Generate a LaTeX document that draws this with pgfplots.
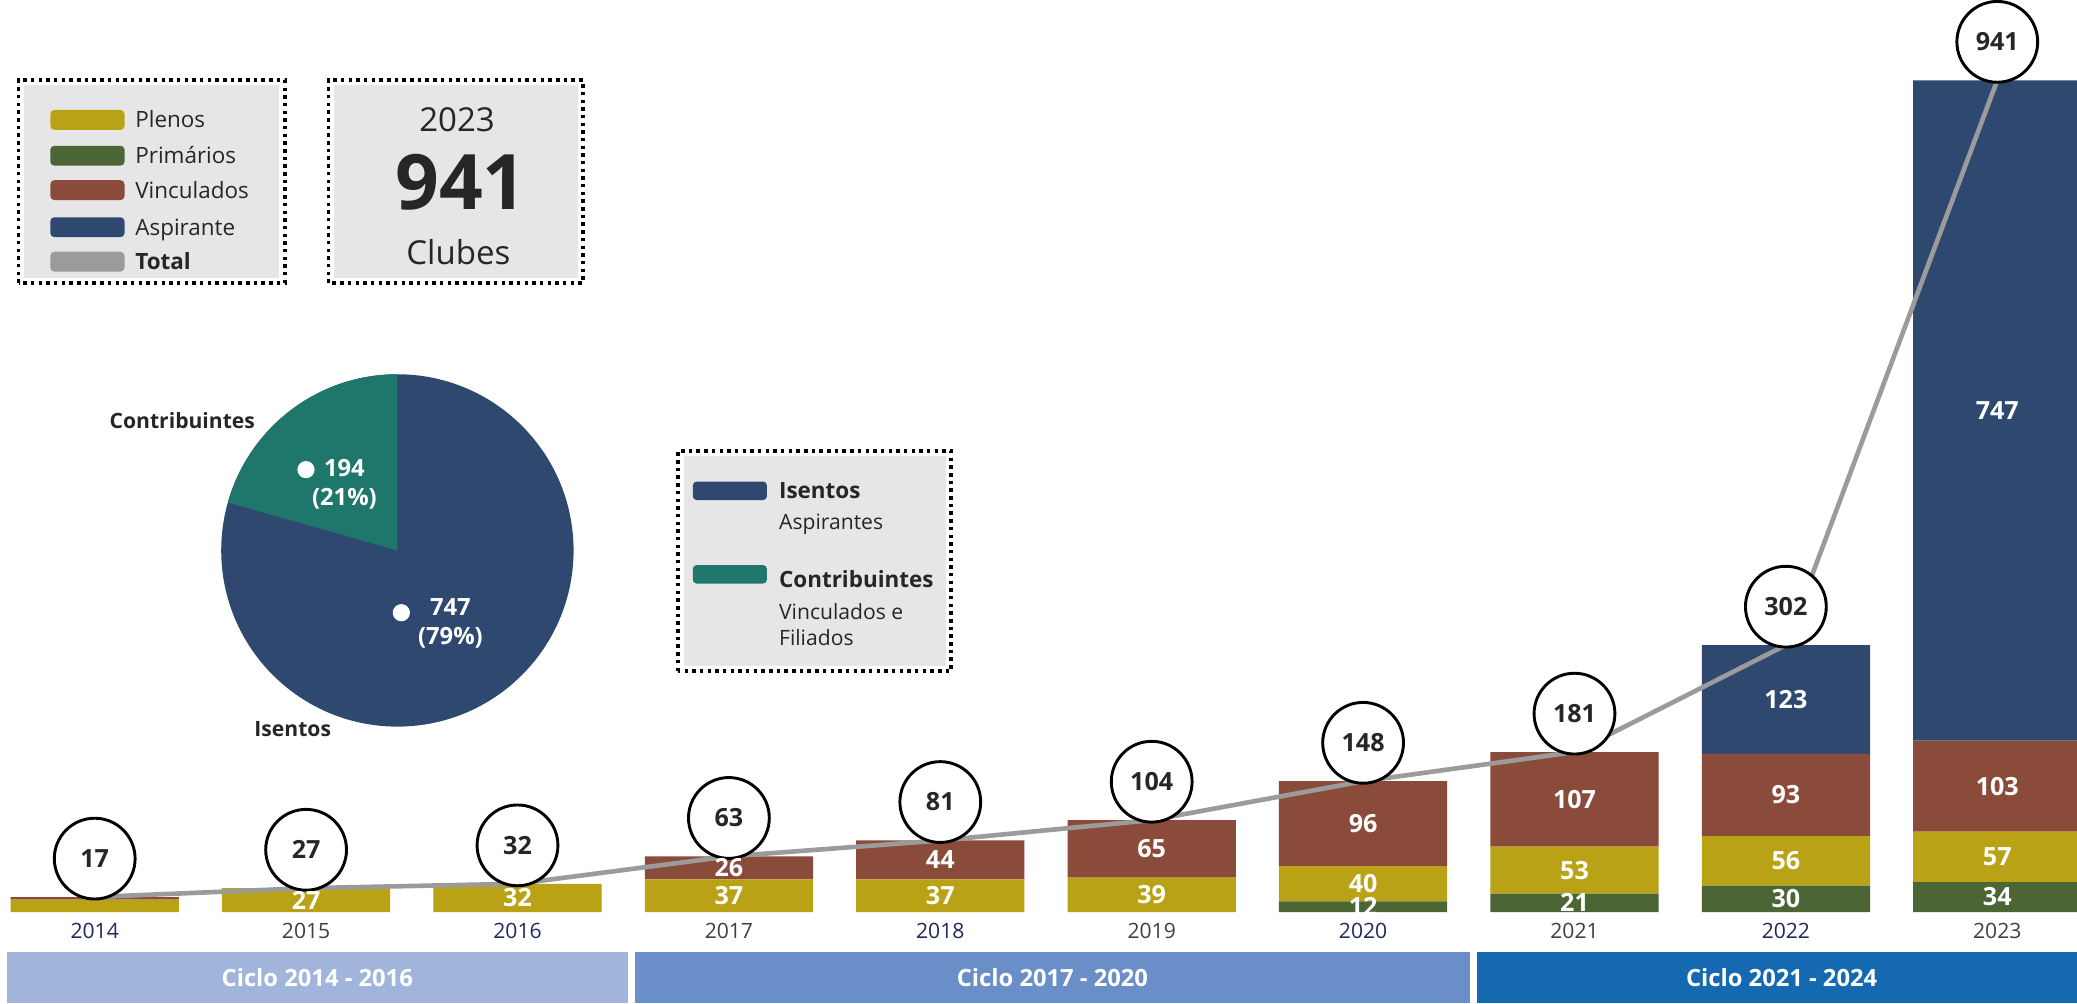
\documentclass[border=0pt]{standalone}
\usepackage{fontspec}
\setmainfont{Open Sans}
\usepackage{pgfplots}
\usepackage{pgfplotstable}
\pgfplotsset{compat=1.18}

\definecolor{plenos}{HTML}{B9A215}
\definecolor{prim}{HTML}{4B6535}
\definecolor{vinc}{HTML}{8B4B3A}
\definecolor{asp}{HTML}{2F4870}
\definecolor{tot}{HTML}{9B9B9B}
\definecolor{contrib}{HTML}{1F776C}
\definecolor{boxgray}{HTML}{E6E6E6}
\definecolor{txt}{HTML}{262626}
\definecolor{navytxt}{HTML}{1F2A5C}
\definecolor{graytxt}{HTML}{404040}
\definecolor{cA}{HTML}{A0B4DC}
\definecolor{cB}{HTML}{6A8FC8}
\definecolor{cC}{HTML}{1569B0}

\pgfplotstableread{
x prim plenos vinc asp total
0 0 14 3 0 17
1 0 27 0 0 27
2 0 32 0 0 32
3 0 37 26 0 63
4 0 37 44 0 81
5 0 39 65 0 104
6 12 40 96 0 148
7 21 53 107 0 181
8 30 56 93 123 302
9 34 57 103 747 941
}\clubdata

\def\pieContrib{194}
\def\pieIsentos{747}

\pgfplotsset{
  frame/.style={at={(0bp,69bp)}, anchor=south west, scale only axis,
    width=1568bp, height=688bp, xmin=-0.448, xmax=9.377, ymin=0, ymax=1031,
    /pgf/number format/assume math mode=true},
  seglabel/.style={draw=none, mark=none,
    point meta=\thisrow{#1},
    nodes near coords={\pgfmathprintnumber[assume math mode=true]{\pgfplotspointmeta}},
    every node near coord/.append style={anchor=center, text=white,
      font=\fontsize{19}{22}\selectfont\bfseries}},
}

\begin{document}
\begin{tikzpicture}
\pgfmathsetmacro{\fracC}{\pieContrib/(\pieContrib+\pieIsentos)}
\pgfmathsetmacro{\angC}{90+360*\fracC}

% ---- stacked bars
\begin{axis}[frame, ybar stacked, bar width=127bp,
  axis line style={draw=none}, major tick length=0pt, ytick=\empty,
  xtick={0,...,9},
  xticklabels={{\textcolor{navytxt}{2014}},{\textcolor{graytxt}{2015}},{\textcolor{navytxt}{2016}},{\textcolor{graytxt}{2017}},{\textcolor{navytxt}{2018}},{\textcolor{graytxt}{2019}},{\textcolor{navytxt}{2020}},{\textcolor{graytxt}{2021}},{\textcolor{navytxt}{2022}},{\textcolor{graytxt}{2023}}},
  xticklabel style={font=\fontsize{16}{19}\selectfont, yshift=-5bp}]
\addplot[fill=prim, draw=none] table[x=x,y=prim]{\clubdata};
\addplot[fill=plenos, draw=none] table[x=x,y=plenos]{\clubdata};
\addplot[fill=vinc, draw=none] table[x=x,y=vinc]{\clubdata};
\addplot[fill=asp, draw=none] table[x=x,y=asp]{\clubdata};
\end{axis}

% ---- total line, circles and segment labels
\begin{axis}[frame, hide axis]
\addplot[tot, line width=3.5bp, mark=none,
  nodes near coords={\pgfmathprintnumber[assume math mode=true]{\pgfplotspointmeta}},
  every node near coord/.append style={circle, draw=black, fill=white, line width=2.2bp,
    minimum size=61bp, inner sep=0pt, anchor=center, yshift=29bp, text=txt,
    font=\fontsize{19}{22}\selectfont\bfseries}]
  table[x=x,y=total]{\clubdata};
\addplot[seglabel=prim, skip coords between index={0}{6}] table[x=x, y expr=\thisrow{prim}/2]{\clubdata};
\addplot[seglabel=plenos, skip coords between index={0}{1}] table[x=x, y expr=\thisrow{prim}+\thisrow{plenos}/2]{\clubdata};
\addplot[seglabel=vinc, skip coords between index={0}{3}] table[x=x, y expr=\thisrow{prim}+\thisrow{plenos}+\thisrow{vinc}/2]{\clubdata};
\addplot[seglabel=asp, skip coords between index={0}{8}] table[x=x, y expr=\thisrow{prim}+\thisrow{plenos}+\thisrow{vinc}+\thisrow{asp}/2]{\clubdata};
\end{axis}

% ---- pie
\begin{axis}[at={(300bp,342bp)}, anchor=center, x=1bp, y=1bp, scale only axis,
  xmin=-140, xmax=140, ymin=-140, ymax=140, hide axis, clip=false]
\fill[asp] (axis cs:0,0) circle[radius=133bp];
\fill[contrib] (axis cs:0,0) -- ++(90:133bp) arc[start angle=90, end angle=\angC, radius=133bp] -- cycle;
\fill[white] (axis cs:-69,61) circle[radius=6.5bp];
\fill[white] (axis cs:3,-47) circle[radius=6.5bp];
\node[text=white, font=\fontsize{18}{22}\selectfont\bfseries, align=center] at (axis cs:-40,50) {194\\(21\%)};
\node[text=white, font=\fontsize{18}{22}\selectfont\bfseries, align=center] at (axis cs:40,-55) {747\\(79\%)};
\node[text=txt, font=\fontsize{16}{19}\selectfont\bfseries, anchor=east] at (axis cs:-104,98) {Contribuintes};
\node[text=txt, font=\fontsize{16}{19}\selectfont\bfseries] at (axis cs:-79,-135) {Isentos};
\end{axis}

% ---- decorations
\begin{scope}[x=1bp, y=1bp]
% cycle bands
\fill[cA] (5,0) rectangle (474,39);
\fill[cB] (479,0) rectangle (1110,39);
\fill[cC] (1115,0) rectangle (1568,39);
\node[text=white, font=\fontsize{18}{21}\selectfont\bfseries] at (239.5,19.5) {Ciclo 2014 - 2016};
\node[text=white, font=\fontsize{18}{21}\selectfont\bfseries] at (794.5,19.5) {Ciclo 2017 - 2020};
\node[text=white, font=\fontsize{18}{21}\selectfont\bfseries] at (1345,19.5) {Ciclo 2021 - 2024};

% legend box 1
\fill[boxgray] (18,548) rectangle (211,693);
\draw[line width=2.6bp, dash pattern=on 2.6bp off 3.2bp] (14,544) rectangle (215,697);
\foreach \c/\t/\y in {plenos/Plenos/667, prim/Primários/640, vinc/Vinculados/614, asp/Aspirante/586}{
  \fill[\c, rounded corners=3bp] (38,\y-7.5) rectangle (94,\y+7.5);
  \node[anchor=base west, inner sep=0pt, text=txt, font=\fontsize{17}{20}\selectfont] at (102,\y-6) {\t};
}
\fill[tot, rounded corners=3bp] (38,552.5) rectangle (94,567.5);
\node[anchor=base west, inner sep=0pt, text=txt, font=\fontsize{17}{20}\selectfont\bfseries] at (102,554) {Total};

% box 2
\fill[boxgray] (252,548) rectangle (436,693);
\draw[line width=2.6bp, dash pattern=on 2.6bp off 3.2bp] (248,544) rectangle (440,697);
\node[text=txt, font=\fontsize{25}{30}\selectfont] at (345,667) {2023};
\node[text=txt, font=\fontsize{58}{64}\selectfont\bfseries] at (348,620) {941};
\node[text=txt, font=\fontsize{25}{30}\selectfont] at (346,567) {Clubes};

% box 3
\fill[boxgray] (516,255) rectangle (714,413);
\draw[line width=2.6bp, dash pattern=on 2.6bp off 3.2bp] (512,251) rectangle (718,417);
\fill[asp, rounded corners=3bp] (523,380) rectangle (579,394);
\fill[contrib, rounded corners=3bp] (523,317) rectangle (579,331);
\node[anchor=base west, inner sep=0pt, text=txt, font=\fontsize{17}{20}\selectfont\bfseries] at (588,381) {Isentos};
\node[anchor=base west, inner sep=0pt, text=txt, font=\fontsize{16}{19}\selectfont] at (588,358) {Aspirantes};
\node[anchor=base west, inner sep=0pt, text=txt, font=\fontsize{17}{20}\selectfont\bfseries] at (588,314) {Contribuintes};
\node[anchor=base west, inner sep=0pt, text=txt, font=\fontsize{16}{19}\selectfont] at (588,290) {Vinculados e};
\node[anchor=base west, inner sep=0pt, text=txt, font=\fontsize{16}{19}\selectfont] at (588,270) {Filiados};
\end{scope}
\end{tikzpicture}
\end{document}
